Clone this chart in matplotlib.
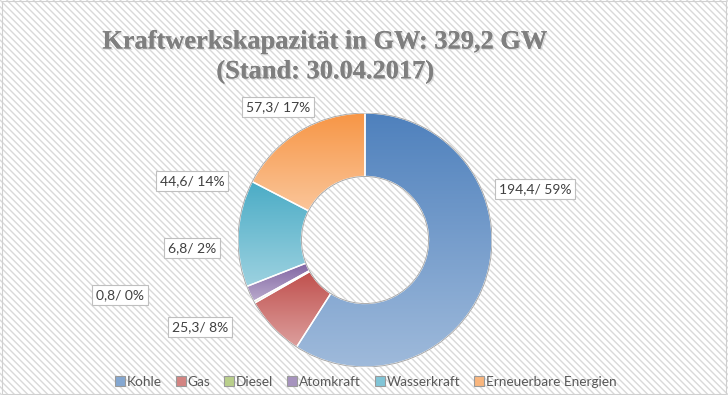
import matplotlib.pyplot as plt
import matplotlib.patheffects as pe
from matplotlib.patches import Rectangle
from matplotlib.lines import Line2D
import numpy as np

# Data
categories = ['Kohle', 'Gas', 'Diesel', 'Atomkraft', 'Wasserkraft', 'Erneuerbare Energien']
values = [194.4, 25.3, 0.8, 6.8, 44.6, 57.3]
labels = ['194,4/ 59%', '25,3/ 8%', '0,8/ 0%', '6,8/ 2%', '44,6/ 14%', '57,3/ 17%']
colors = ['#4f81bd', '#c0504d', '#9bbb59', '#8064a2', '#4bacc6', '#f79646']

# label box centres in pixels (layout)
label_pos = [(535, 189), (200, 327), (120, 295), (192, 248), (192, 181), (278, 107)]

W, H = 728, 395
plt.rcParams['hatch.color'] = '#d9d9d9'
plt.rcParams['hatch.linewidth'] = 1.0
fig = plt.figure(figsize=(W / 100, H / 100), dpi=100)

# striped background
bg = Rectangle((0, 0), 1, 1, transform=fig.transFigure, facecolor='white',
               edgecolor='#d9d9d9', hatch='\\\\\\\\\\', linewidth=0, zorder=-10)
fig.patches.append(bg)
fig.patches.append(Rectangle((0.003, 0.003), 0.994, 0.994, transform=fig.transFigure,
                             facecolor='none', edgecolor='#d0d0d0', linewidth=0.8))

# donut axes: centre (365, 240) px, radius 127 px
cx, cy, r = 365, 240, 127
ax = fig.add_axes([(cx - r) / W, (H - cy - r) / H, 2 * r / W, 2 * r / H])
wedges, _ = ax.pie(values, startangle=90, counterclock=False, radius=1,
                   wedgeprops=dict(width=0.5, edgecolor='white', linewidth=1.0))
ax.set_aspect('equal')
ax.axis('off')


def lighten(c, f):
    c = np.array(plt.matplotlib.colors.to_rgb(c))
    return c + (1 - c) * f


# vertical gradient in each wedge
for w, c in zip(wedges, colors):
    bb = w.get_path().get_extents()
    top = lighten(c, 0.0)
    bot = lighten(c, 0.45)
    t = np.linspace(0, 1, 64)[:, None]
    grad = top[None, :] * (1 - t) + bot[None, :] * t
    img = ax.imshow(grad[:, None, :], extent=(bb.x0, bb.x1, bb.y0, bb.y1),
                    origin='upper', aspect='auto', zorder=w.get_zorder() - 0.1,
                    interpolation='bilinear')
    img.set_clip_path(w)
    w.set_facecolor('none')
ax.add_patch(plt.Circle((0, 0), 1.0, facecolor='none', edgecolor='#a0a0a0', linewidth=0.6))
ax.add_patch(plt.Circle((0, 0), 0.5, facecolor='none', edgecolor='#a0a0a0', linewidth=0.6))
ax.set_xlim(-1, 1)
ax.set_ylim(-1, 1)

# data labels
for txt, (px, py) in zip(labels, label_pos):
    fig.text(px / W, 1 - py / H, txt, ha='center', va='center', fontsize=10,
             family='Lato', color='#404040',
             bbox=dict(boxstyle='square,pad=0.3', facecolor='white', edgecolor='#bfbfbf', linewidth=0.8))

# title
shadow = [pe.withSimplePatchShadow(offset=(1, -1), shadow_rgbFace='#b8b8b8', alpha=0.45), pe.Normal()]
fig.text(325 / W, 1 - 42 / H, 'Kraftwerkskapazität in GW: 329,2 GW', ha='center', va='center',
         fontsize=19, fontweight='bold', family='Liberation Serif', color='#7f7f7f', path_effects=shadow)
fig.text(325 / W, 1 - 72 / H, '(Stand: 30.04.2017)', ha='center', va='center',
         fontsize=19, fontweight='bold', family='Liberation Serif', color='#7f7f7f', path_effects=shadow)

# legend
handles = [Line2D([], [], linestyle='none', marker='s', markersize=7, markerfacecolor=lighten(c, 0.3),
                  markeredgecolor='#9a9a9a', markeredgewidth=0.8) for c in colors]
fig.legend(handles, categories, loc='center', bbox_to_anchor=(365 / W, 1 - 382 / H), ncol=6,
           frameon=False, handletextpad=0.0, columnspacing=0.9, handlelength=1.0,
           prop=dict(family='Lato', size=9.8), labelcolor='#595959')

fig.savefig('out.png', dpi=100)
